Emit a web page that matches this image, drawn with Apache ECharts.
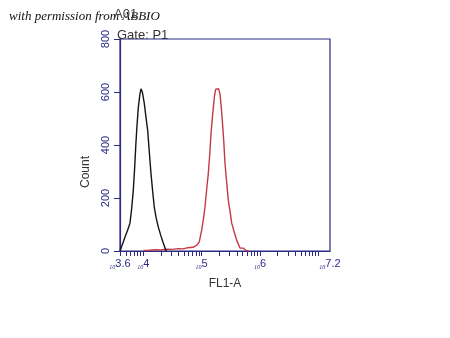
<!DOCTYPE html>
<html><head><meta charset="utf-8">
<script src="https://cdn.jsdelivr.net/npm/echarts@6/dist/echarts.min.js"></script>
<style>html,body{margin:0;padding:0;background:#fff}#c{width:450px;height:338px}</style>
</head><body><div id="c"></div>
<script>
// x values are log10(FL1-A)
const blackLogX = [3.60, 3.617, 3.65, 3.686, 3.73, 3.771, 3.80, 3.828, 3.85, 3.869, 3.89, 3.914, 3.94, 3.960, 3.985, 4.017, 4.045, 4.075, 4.10, 4.131, 4.16, 4.188, 4.22, 4.257, 4.30, 4.342, 4.383, 4.40];
const blackCount = [0, 4, 30, 53, 78, 105, 160, 229, 310, 391, 470, 541, 590, 612, 598, 556, 505, 454, 380, 293, 225, 165, 125, 90, 58, 30, 4, 0];
const redLogX = [4.00, 4.10, 4.20, 4.30, 4.40, 4.50, 4.60, 4.68, 4.75, 4.85, 4.92, 4.96, 5.00, 5.03, 5.057, 5.085, 5.114, 5.14, 5.160, 5.180, 5.200, 5.220, 5.241, 5.268, 5.290, 5.314, 5.335, 5.354, 5.38, 5.400, 5.43, 5.457, 5.49, 5.515, 5.56, 5.600, 5.657, 5.714, 5.76, 5.80];
const redCount = [2, 3, 5, 4, 7, 6, 9, 8, 12, 14, 22, 35, 79, 120, 166, 230, 293, 370, 443, 495, 542, 585, 611, 617, 612, 593, 545, 492, 410, 330, 255, 191, 145, 105, 70, 41, 11, 11, 2, 0];
const yTicks = [0, 200, 400, 600, 800];
const xLabelExps = ['3.6', '4', '5', '6', '7.2'];
const xMinorMultipliers = [1, 2, 3, 4, 5, 6, 7, 8, 9];
const xDecades = [3, 4, 5, 6, 7];

const navy = '#2b2b86';
const tickVals = [];
xDecades.forEach(d => xMinorMultipliers.forEach(k => {
  const v = Math.log10(k) + d;
  if (v >= 3.6 - 1e-9 && v <= 7.2 + 1e-9) tickVals.push(v);
}));

const chart = echarts.init(document.getElementById('c'), null, {renderer: 'canvas'});
chart.setOption({
  animation: false,
  backgroundColor: '#fff',
  title: [
    {text: 'with permission from ABBIO', left: 4, top: 5,
     textStyle: {fontFamily: 'Liberation Serif', fontStyle: 'italic', fontWeight: 'normal', fontSize: 13, color: '#111'}},
    {text: 'A01', left: 109, top: 3,
     textStyle: {fontFamily: 'Liberation Sans', fontWeight: 'normal', fontSize: 13, color: '#444'}},
    {text: 'Gate: P1', left: 112, top: 24,
     textStyle: {fontFamily: 'Liberation Sans', fontWeight: 'normal', fontSize: 13, color: '#333'}}
  ],
  graphic: [
    {type: 'text', x: 86, y: 172, rotation: Math.PI / 2,
     style: {text: 'Count', textAlign: 'center', textVerticalAlign: 'middle',
       font: '12px "Liberation Sans"', fill: '#333'}}
  ],
  grid: {left: 120, top: 39, right: 120, bottom: 87, show: true, borderColor: navy, borderWidth: 1.2},
  xAxis: {
    type: 'value', min: 3.6, max: 7.2,
    name: 'FL1-A', nameLocation: 'middle', nameGap: 27,
    nameTextStyle: {fontFamily: 'Liberation Sans', fontSize: 12, color: '#333'},
    axisLine: {lineStyle: {color: navy, width: 1.2}},
    axisTick: {show: true, length: 5, customValues: tickVals, lineStyle: {color: navy}},
    axisLabel: {
      customValues: xLabelExps.map(Number), margin: 7,
      formatter: v => '{s|10}{e|' + xLabelExps.find(e => Math.abs(Number(e) - v) < 1e-6) + '}',
      rich: {
        s: {fontSize: 6, color: navy, verticalAlign: 'bottom', lineHeight: 12, fontFamily: 'Liberation Serif', fontStyle: 'italic'},
        e: {fontSize: 11, color: navy, lineHeight: 12, fontFamily: 'Liberation Sans'}
      }
    },
    splitLine: {show: false}
  },
  yAxis: {
    type: 'value', min: 0, max: 800, interval: 200,
    axisLine: {show: true, lineStyle: {color: navy, width: 1.2}},
    axisTick: {show: true, length: 6, lineStyle: {color: navy}},
    axisLabel: {rotate: 90, fontSize: 11, color: navy, fontFamily: 'Liberation Sans', margin: 9,
      formatter: v => yTicks.includes(v) ? String(v) : ''},
    splitLine: {show: false}
  },
  series: [
    {type: 'line', data: redLogX.map((x, i) => [x, redCount[i]]), showSymbol: false,
     lineStyle: {color: '#c23a46', width: 1.4}, z: 2},
    {type: 'line', data: blackLogX.map((x, i) => [x, blackCount[i]]), showSymbol: false,
     lineStyle: {color: '#151515', width: 1.4}, z: 3}
  ]
});
</script></body></html>
